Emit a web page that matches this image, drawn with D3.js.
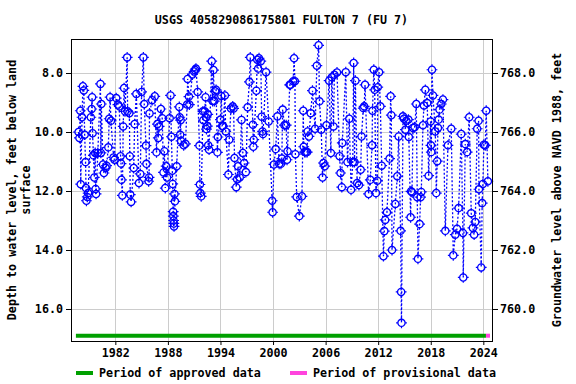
<!DOCTYPE html>
<html>
<head>
<meta charset="utf-8">
<script src="https://cdn.jsdelivr.net/npm/d3@7"></script>
<style>
  body { margin: 0; background: #fff; }
  svg text { font-family: "DejaVu Sans Mono", monospace; font-weight: bold; font-size: 11.7px; fill: #000; }
</style>
</head>
<body>
<svg width="576" height="384"></svg>
<script>
"use strict";

// measurement dates (decimal years) and depth to water, feet below land surface
const years = [
  1977.8, 1977.9, 1978.0, 1978.05, 1978.2, 1978.3, 1978.4, 1978.5, 1978.6, 1978.65, 1978.7, 1978.8, 1978.9,
  1979.2, 1979.3, 1979.35, 1979.4, 1979.5, 1979.6, 1979.7, 1979.75, 1979.8, 1980.0, 1980.3, 1980.35, 1980.4,
  1980.6, 1980.7, 1980.9, 1981.0, 1981.2, 1981.3, 1981.4, 1981.5, 1981.8, 1981.9, 1982.1, 1982.3, 1982.45,
  1982.6, 1982.65, 1982.7, 1982.8, 1982.9, 1983.0, 1983.1, 1983.35, 1983.4, 1983.6, 1983.65, 1983.7, 1983.8,
  1984.1, 1984.2, 1984.4, 1984.7, 1984.85, 1985.0, 1985.2, 1985.3, 1985.5, 1985.55, 1985.8, 1985.85, 1985.9,
  1986.2, 1986.5, 1986.7, 1986.8, 1986.9, 1987.0, 1987.2, 1987.35, 1987.5, 1987.6, 1987.7, 1987.8, 1987.9,
  1988.2, 1988.3, 1988.4, 1988.5, 1988.55, 1988.6, 1988.62, 1988.65, 1988.68, 1988.7, 1988.75, 1988.8, 1989.0,
  1989.3, 1989.35, 1989.4, 1989.45, 1989.5, 1989.8, 1990.0, 1990.2, 1990.25, 1990.4, 1990.45, 1990.8, 1991.0,
  1991.1, 1991.2, 1991.4, 1991.6, 1991.65, 1991.7, 1991.8, 1992.0, 1992.05, 1992.2, 1992.3, 1992.35, 1992.4,
  1992.5, 1992.55, 1992.6, 1992.7, 1993.0, 1993.1, 1993.2, 1993.3, 1993.4, 1993.5, 1993.65, 1993.7, 1994.0,
  1994.1, 1994.2, 1994.3, 1994.5, 1994.6, 1994.9, 1995.0, 1995.2, 1995.4, 1995.5, 1995.6, 1995.8, 1995.9,
  1996.0, 1996.2, 1996.4, 1996.55, 1996.7, 1996.9, 1997.1, 1997.3, 1997.4, 1997.7, 1997.75, 1997.8, 1998.1,
  1998.2, 1998.3, 1998.4, 1998.6, 1998.7, 1998.8, 1998.85, 1999.2, 1999.5, 1999.9, 1999.95, 2000.1, 2000.3,
  2000.5, 2000.7, 2000.9, 2001.0, 2001.1, 2001.3, 2001.5, 2001.6, 2001.65, 2001.9, 2002.0, 2002.3, 2002.4,
  2002.5, 2002.55, 2002.7, 2003.0, 2003.3, 2003.45, 2003.5, 2003.6, 2003.75, 2003.9, 2003.95, 2004.1, 2004.3,
  2004.5, 2004.8, 2005.0, 2005.2, 2005.3, 2005.5, 2005.65, 2005.75, 2005.9, 2006.1, 2006.4, 2006.6, 2006.7,
  2006.9, 2007.0, 2007.3, 2007.6, 2007.7, 2007.85, 2007.9, 2008.3, 2008.5, 2008.7, 2008.9, 2009.1, 2009.2,
  2009.3, 2009.4, 2009.6, 2009.8, 2010.0, 2010.1, 2010.3, 2010.4, 2010.5, 2010.9, 2011.1, 2011.3, 2011.35,
  2011.5, 2011.6, 2011.75, 2011.9, 2011.95, 2012.1, 2012.25, 2012.4, 2012.6, 2012.7, 2012.8, 2013.0, 2013.3,
  2013.42, 2013.5, 2013.58, 2013.96, 2014.18, 2014.34, 2014.56, 2014.62, 2014.66, 2014.83, 2014.94, 2015.1,
  2015.21, 2015.45, 2015.5, 2015.7, 2015.75, 2015.86, 2015.97, 2016.16, 2016.35, 2016.46, 2016.54, 2016.73,
  2016.84, 2016.92, 2017.11, 2017.22, 2017.38, 2017.6, 2017.76, 2017.98, 2018.02, 2018.06, 2018.14, 2018.25,
  2018.52, 2018.63, 2018.74, 2018.82, 2018.9, 2019.0, 2019.2, 2019.39, 2019.66, 2019.96, 2020.34, 2020.57,
  2020.8, 2021.0, 2021.18, 2021.48, 2021.67, 2021.71, 2021.94, 2022.16, 2022.39, 2022.62, 2022.81, 2022.95,
  2023.08, 2023.3, 2023.46, 2023.5, 2023.76, 2023.87, 2023.95, 2024.06, 2024.22, 2024.33, 2024.52
];
const depths = [
  10.0, 10.2, 9.28, 11.77, 9.5, 8.45, 8.59, 10.09, 11.02, 11.9, 12.33, 12.2, 12.07,
  9.5, 9.22, 8.82, 10.04, 10.79, 11.54, 10.71, 11.93, 12.1, 10.71, 8.37, 10.71, 9.05,
  11.1, 11.39, 11.22, 11.14, 10.52, 9.55, 8.82, 9.62, 10.86, 10.94, 8.85, 9.07, 9.13,
  10.82, 11.07, 11.62, 12.15, 9.81, 8.51, 9.3, 7.47, 9.3, 9.36, 10.82, 12.12, 12.37,
  11.22, 9.73, 8.71, 11.73, 11.42, 8.64, 7.47, 9.05, 10.46, 11.08, 11.67, 11.54, 9.37,
  8.92, 8.79, 10.69, 9.73, 10.2, 9.81, 9.22, 9.53, 11.37, 10.65, 11.9, 11.16, 11.54,
  9.53, 8.76, 10.16, 11.31, 11.76, 12.7, 12.85, 13.0, 13.1, 13.2, 12.1, 12.35, 11.16,
  9.15, 9.5, 10.09, 9.6, 10.3, 10.45, 10.4, 9.07, 8.2, 8.8, 9.07, 8.05, 7.95,
  7.9, 7.85, 8.64, 10.46, 11.78, 12.07, 12.18, 9.3, 9.6, 9.3, 8.82, 9.5, 9.9,
  9.8, 9.4, 10.45, 10.6, 7.6, 8.95, 7.9, 8.95, 8.62, 8.57, 10.69, 10.17, 9.58,
  8.78, 9.8, 9.8, 8.76, 9.98, 11.44, 10.26, 9.2, 9.13, 9.2, 10.88, 11.87, 11.6,
  11.16, 11.54, 9.59, 10.71, 11.05, 11.36, 9.16, 8.3, 7.47, 9.75, 10.5, 10.26, 8.6,
  7.55, 7.85, 7.5, 7.6, 9.48, 9.98, 10.07, 7.97, 9.64, 12.33, 12.72, 11.1, 10.58,
  9.47, 11.08, 11.08, 10.9, 9.24, 9.77, 9.77, 10.94, 10.65, 8.4, 8.4, 8.28, 7.5,
  8.28, 10.75, 12.2, 12.85, 12.18, 9.28, 10.5, 10.68, 10.68, 10.68, 9.98, 10.15, 9.36,
  8.6, 9.89, 7.75, 7.06, 8.96, 9.92, 11.54, 11.05, 11.16, 9.77, 8.26, 10.71, 8.14,
  9.81, 8.06, 7.98, 10.82, 11.39, 11.87, 10.37, 7.97, 11.02, 9.55, 11.96, 11.02, 7.66,
  11.02, 8.26, 11.73, 11.8, 11.28, 10.15, 9.19, 9.13, 8.4, 12.1, 11.62, 10.45, 9.28,
  7.89, 8.57, 12.07, 11.65, 8.48, 7.97, 9.13, 11.14, 14.21, 13.36, 12.98, 12.72, 10.9,
  8.79, 9.43, 14.0, 12.44, 11.5, 10.15, 13.35, 15.42, 16.47, 9.47, 9.55, 9.92,
  9.62, 9.58, 10.17, 12.89, 12.01, 12.03, 9.86, 9.84, 9.05, 12.21, 14.3, 13.12,
  12.21, 12.03, 9.77, 9.1, 8.57, 9.02, 11.48, 9.64, 10.45, 10.68, 7.89, 8.76,
  9.98, 12.07, 10.99, 9.86, 9.58, 9.24, 9.05, 8.9, 13.35, 10.45, 9.89, 14.18,
  13.48, 13.28, 12.58, 10.07, 13.42, 14.93, 10.41, 10.68, 9.5, 12.75, 13.25, 13.48,
  13.05, 9.89, 9.62, 11.94, 14.59, 12.41, 11.76, 10.43, 10.45, 9.28, 11.67
];

// periods of record
const approvedPeriod = [1977.5, 2024.3];
const provisionalPeriod = [2024.3, 2024.76];

const xTicks = [1982, 1988, 1994, 2000, 2006, 2012, 2018, 2024];
const depthTicks = [8, 10, 12, 14, 16];
const elevTicks = [760, 762, 764, 766, 768];
const datum = 776; // land surface, ft above NAVD 1988

const titleText = "USGS 405829086175801 FULTON 7 (FU 7)";

const plot = { left: 71, right: 492, top: 39, bottom: 341 };

let svg = d3.select("svg");

let x = d3.scaleLinear().domain([1976.94, 2024.99]).range([plot.left, plot.right]);
let y = d3.scaleLinear().domain([6.847, 17.085]).range([plot.top, plot.bottom]);
let yElev = d3.scaleLinear().domain([datum - 6.847, datum - 17.085]).range([plot.top, plot.bottom]);

// grid
let grid = svg.append("g").attr("stroke", "#cccccc").attr("stroke-width", 1);
grid.selectAll("line.gx").data(xTicks).enter().append("line")
  .attr("x1", d => Math.round(x(d)) + 0.5).attr("x2", d => Math.round(x(d)) + 0.5)
  .attr("y1", plot.top).attr("y2", plot.bottom);
grid.selectAll("line.gy").data(depthTicks).enter().append("line")
  .attr("y1", d => Math.round(y(d)) + 0.5).attr("y2", d => Math.round(y(d)) + 0.5)
  .attr("x1", plot.left).attr("x2", plot.right);

// axes
let fmt = d3.format(".1f");
let axL = svg.append("g").attr("transform", `translate(${plot.left},0)`)
  .call(d3.axisLeft(y).tickValues(depthTicks).tickFormat(fmt).tickSize(5).tickPadding(3));
let axR = svg.append("g").attr("transform", `translate(${plot.right},0)`)
  .call(d3.axisRight(yElev).tickValues(elevTicks).tickFormat(fmt).tickSize(6).tickPadding(2));
let axB = svg.append("g").attr("transform", `translate(0,${plot.bottom})`)
  .call(d3.axisBottom(x).tickValues(xTicks).tickFormat(d3.format("d")).tickSize(4).tickPadding(4));
[axL, axR, axB].forEach(a => {
  a.select(".domain").remove();
  a.selectAll("text").attr("font-family", null).attr("font-size", null);
  a.selectAll("line").attr("stroke", "#000");
});

// period bars
let barY = 335.7;
svg.append("line").attr("x1", x(approvedPeriod[0])).attr("x2", x(approvedPeriod[1]))
  .attr("y1", barY).attr("y2", barY).attr("stroke", "#00a000").attr("stroke-width", 4);
svg.append("line").attr("x1", x(provisionalPeriod[0])).attr("x2", x(provisionalPeriod[1]))
  .attr("y1", barY).attr("y2", barY).attr("stroke", "#ff44dd").attr("stroke-width", 4);

// dotted connecting line
let pts = years.map((yr, i) => [yr, depths[i]]);
svg.append("path").datum(pts)
  .attr("d", d3.line().x(d => x(d[0])).y(d => y(d[1])))
  .attr("fill", "none").attr("stroke", "#0000ff").attr("stroke-width", 1.3)
  .attr("stroke-dasharray", "2,2");

// markers
let mk = svg.append("g").attr("stroke", "#0000ff").attr("fill", "none");
mk.selectAll("g").data(pts).enter().append("g")
  .attr("transform", d => `translate(${x(d[0])},${y(d[1])})`)
  .each(function() {
    let g = d3.select(this);
    g.append("circle").attr("r", 3.6).attr("stroke-width", 1.3);
    g.append("path").attr("d", "M0,-5.4V-3.6M0,3.6V5.4M-5.4,0H-3.6M3.6,0H5.4").attr("stroke-width", 1.2);
  });

// frame
svg.append("rect").attr("x", plot.left + 0.5).attr("y", plot.top + 0.5)
  .attr("width", plot.right - plot.left).attr("height", plot.bottom - plot.top)
  .attr("fill", "none").attr("stroke", "#000").attr("stroke-width", 1);

// title
svg.append("text").attr("x", (plot.left + plot.right) / 2).attr("y", 24)
  .attr("text-anchor", "middle").text(titleText);

// axis labels
let cy = (plot.top + plot.bottom) / 2;
svg.append("text").attr("transform", `translate(16,${cy}) rotate(-90)`)
  .attr("text-anchor", "middle").text("Depth to water level, feet below land");
svg.append("text").attr("transform", `translate(30,${cy}) rotate(-90)`)
  .attr("text-anchor", "middle").text("surface");
svg.append("text").attr("transform", `translate(561,${cy}) rotate(-90)`)
  .attr("text-anchor", "middle").text("Groundwater level above NAVD 1988, feet");

// legend
let legend = svg.append("g").attr("transform", "translate(0,373)");
[["#00a000", "Period of approved data", 76], ["#ff44dd", "Period of provisional data", 290]].forEach(l => {
  legend.append("line").attr("x1", l[2]).attr("x2", l[2] + 17).attr("y1", 0).attr("y2", 0)
    .attr("stroke", l[0]).attr("stroke-width", 4);
  legend.append("text").attr("x", l[2] + 23).attr("y", 4).text(l[1]);
});
</script>
</body>
</html>
